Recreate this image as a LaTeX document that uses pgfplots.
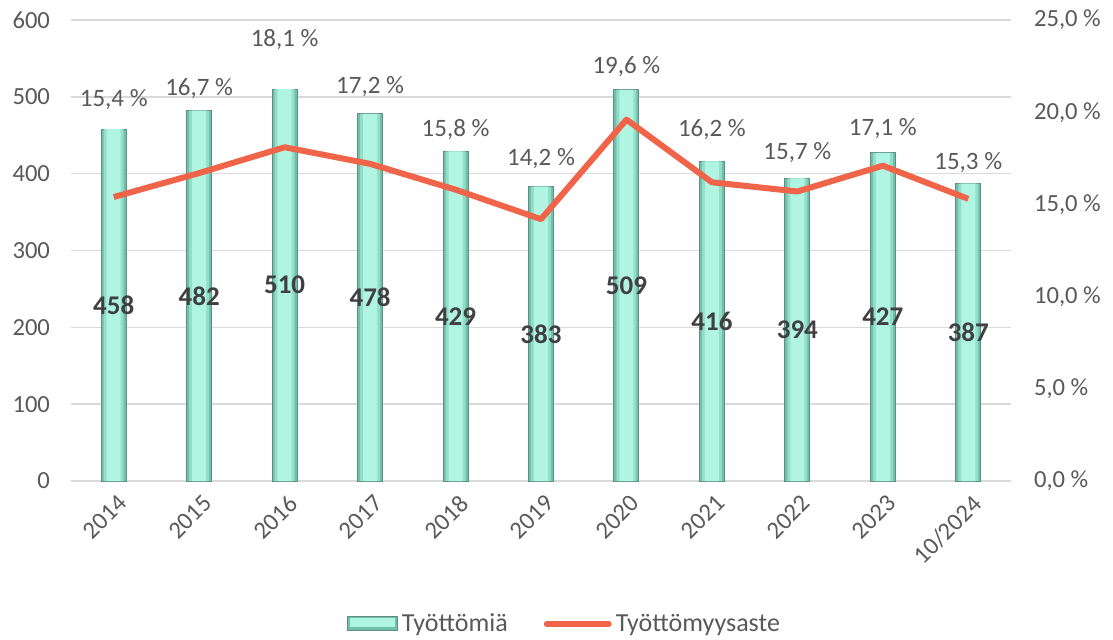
\documentclass[border=0pt]{standalone}
\usepackage{fontspec}
\setmainfont{Carlito}
\usepackage{pgfplots}
\pgfplotsset{compat=1.18}
\definecolor{barfill}{HTML}{B0F5E2}
\definecolor{barmid}{HTML}{93DEC9}
\definecolor{baredge}{HTML}{6FBFA9}
\definecolor{barline}{HTML}{5E8F84}
\definecolor{linec}{HTML}{F0654A}
\definecolor{gridc}{HTML}{D9D9D9}
\definecolor{txt}{HTML}{595959}
\definecolor{lbl}{HTML}{404040}

\pgfplotsset{
  common/.style={
    scale only axis, width=470pt, height=230.5pt,
    xmin=-0.5, xmax=10.5,
    axis line style={draw=none},
    major tick length=0pt,
    tick label style={font=\fontsize{12.3}{14}\selectfont, text=txt},
    /pgf/number format/assume math mode=true,
  },
  barleg/.style={legend image code/.code={
    \draw[draw=barline, line width=0.5pt, fill=baredge] (0pt,-3.5pt) rectangle (25pt,3.5pt);
    \fill[barfill] (1.5pt,-1pt) rectangle (23.5pt,2.8pt);}},
  lineleg/.style={legend image code/.code={\draw[##1, line cap=round] (0pt,0pt) -- (31pt,0pt);}},
}

\begin{document}
\begin{tikzpicture}
\path[use as bounding box] (-35.5pt,-79pt) rectangle (521pt,240.5pt);
\begin{axis}[
  common,
  ymin=0, ymax=600,
  ytick={0,100,...,600},
  xtick={0,...,10},
  xticklabels={2014,2015,2016,2017,2018,2019,2020,2021,2022,2023,10/2024},
  xticklabel style={rotate=45, anchor=north east, yshift=-2pt},
  yticklabel style={xshift=-7pt},
  ymajorgrids, grid style={draw=gridc, line width=0.75pt},
]
% Työttömiä (bars): outer edge, middle band, light centre
\addplot[ybar, bar shift=0pt, bar width=12.5pt, draw=barline, line width=0.5pt, fill=baredge]
coordinates {(0,458) (1,482) (2,510) (3,478) (4,429) (5,383) (6,509) (7,416) (8,394) (9,427) (10,387)};
\addplot[ybar, bar shift=0pt, bar width=10pt, draw=none, fill=barmid]
coordinates {(0,458) (1,482) (2,510) (3,478) (4,429) (5,383) (6,509) (7,416) (8,394) (9,427) (10,387)};
\addplot[ybar, bar shift=0pt, bar width=7pt, draw=none, fill=barfill,
  nodes near coords,
  visualization depends on={y \as \rawy},
  every node near coord/.style={anchor=center, font=\fontsize{13.5}{15}\selectfont\bfseries, text=lbl,
    shift={(axis direction cs:0,-\rawy/2)}}]
coordinates {(0,458) (1,482) (2,510) (3,478) (4,429) (5,383) (6,509) (7,416) (8,394) (9,427) (10,387)};
% percentage labels, placed as in the original
\addplot[draw=none, mark=none, nodes near coords, point meta=explicit symbolic,
  every node near coord/.style={anchor=center, font=\fontsize{12.5}{14}\selectfont, text=txt}]
coordinates {(0,496) [15,4 \%] (1,511) [16,7 \%] (2,574) [18,1 \%] (3,513) [17,2 \%]
  (4,457) [15,8 \%] (5,420) [14,2 \%] (6,540) [19,6 \%] (7,457) [16,2 \%]
  (8,427) [15,7 \%] (9,459) [17,1 \%] (10,414) [15,3 \%]};
\end{axis}
\begin{axis}[
  common,
  ymin=0, ymax=25,
  axis y line*=right, axis x line=none,
  ytick={0,5,...,25},
  yticklabel={\pgfmathprintnumber[fixed,fixed zerofill,precision=1,use comma]{\tick} \%},
  yticklabel style={xshift=8pt},
  legend style={at={(0.526,-0.31)}, anchor=center, draw=none, fill=none, legend columns=2,
    font=\fontsize{13}{15}\selectfont, text=txt,
    /tikz/every even column/.append style={column sep=16pt}},
]
\addlegendimage{barleg}
\addlegendentry{Työttömiä}
\addplot[color=linec, line width=3pt, line join=round, lineleg]
coordinates {(0,15.4) (1,16.7) (2,18.1) (3,17.2) (4,15.8) (5,14.2) (6,19.6) (7,16.2) (8,15.7) (9,17.1) (10,15.3)};
\addlegendentry{Työttömyysaste}
\end{axis}
\end{tikzpicture}
\end{document}
